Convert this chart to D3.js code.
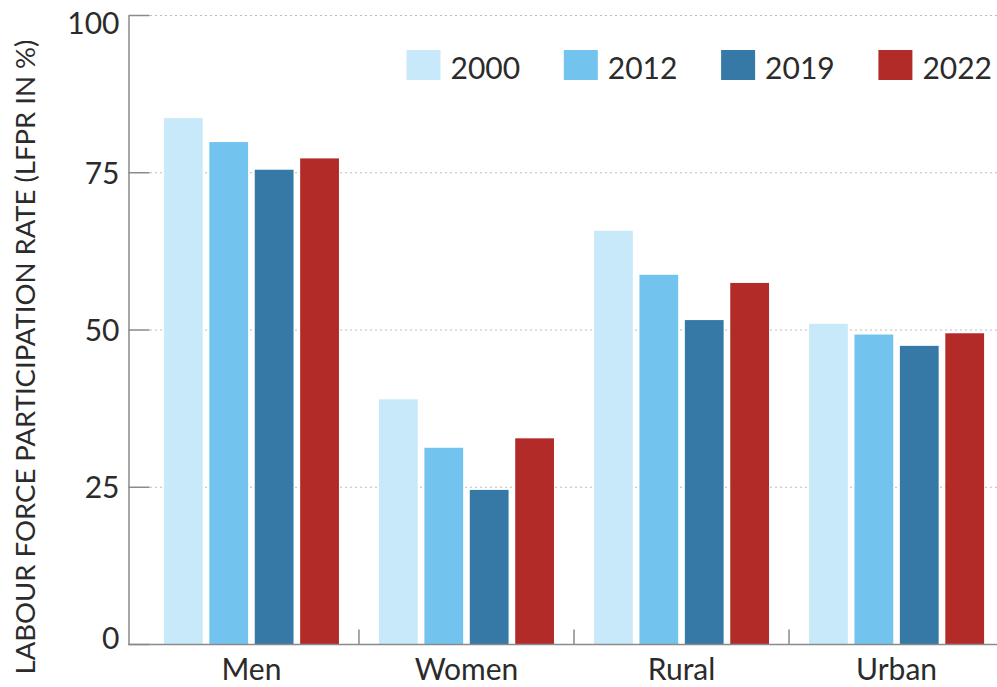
<!DOCTYPE html>
<html>
<head>
<meta charset="utf-8">
<script src="https://cdn.jsdelivr.net/npm/d3@7"></script>
<style>
  body { margin: 0; background: #fff; }
  svg { display: block; font-family: Lato, "Open Sans", sans-serif; }
  .tick text { fill: #2b2b2b; }
</style>
</head>
<body>
<script>
// data
var categories = ["Men", "Women", "Rural", "Urban"];
var years = ["2000", "2012", "2019", "2022"];
var v2000 = [83.6, 38.9, 65.7, 50.9];
var v2012 = [79.8, 31.2, 58.7, 49.2];
var v2019 = [75.4, 24.5, 51.5, 47.4];
var v2022 = [77.2, 32.7, 57.4, 49.4];
var yTicks = [0, 25, 50, 75, 100];
var colors = ["#c8e9f9", "#72c4ef", "#3679a7", "#b22b28"];

var series = [v2000, v2012, v2019, v2022];

var width = 997, height = 687;
var font = "Lato, 'Open Sans', sans-serif";

// set the ranges
var x = d3.scaleBand().domain(categories)
    .range([128, 1020])
    .paddingInner(0.186)
    .paddingOuter(0.167);
var xYear = d3.scaleBand().domain(years)
    .range([0, x.bandwidth()])
    .paddingInner(0.146);
var y = d3.scaleLinear().domain([0, 100]).range([644, 15]);

var svg = d3.select("body").append("svg")
    .attr("width", width)
    .attr("height", height);

// dotted gridlines
svg.append("g")
    .selectAll("line")
    .data(yTicks.filter(function (d) { return d > 0; }))
    .enter().append("line")
    .attr("x1", 150)
    .attr("x2", width)
    .attr("y1", function (d) { return y(d) + 0.5; })
    .attr("y2", function (d) { return y(d) + 0.5; })
    .attr("stroke", "#bdbdbd")
    .attr("stroke-width", 1.2)
    .attr("stroke-dasharray", "2,3");

// bars
var groups = svg.append("g")
    .selectAll("g")
    .data(categories)
    .enter().append("g")
    .attr("transform", function (d) { return "translate(" + x(d) + ",0)"; });

groups.selectAll("rect")
    .data(function (d, i) {
        return years.map(function (yr, j) { return { year: yr, value: series[j][i], c: colors[j] }; });
    })
    .enter().append("rect")
    .attr("x", function (d) { return xYear(d.year); })
    .attr("width", xYear.bandwidth())
    .attr("y", function (d) { return y(d.value); })
    .attr("height", function (d) { return y(0) - y(d.value); })
    .attr("fill", function (d) { return d.c; });

// y axis
var yAxis = svg.append("g")
    .attr("transform", "translate(128.5,0)")
    .call(d3.axisRight(y).tickValues(yTicks).tickSize(21).tickSizeOuter(0).tickFormat(d3.format("d")))
    .attr("font-family", font);
yAxis.select(".domain").attr("stroke", "#8a8a8a").attr("stroke-width", 1.5);
yAxis.selectAll(".tick line").attr("stroke", "#8a8a8a").attr("stroke-width", 1.5);
yAxis.selectAll(".tick text")
    .attr("x", -9)
    .attr("text-anchor", "end")
    .attr("dy", "0.36em")
    .attr("y", function (d) { return d === 100 ? 8 : (d === 0 ? -6 : 0); })
    .style("font-size", "30px");

// x axis
var xAxis = svg.append("g")
    .attr("transform", "translate(0,644.5)")
    .call(d3.axisBottom(x).tickSize(0).tickSizeOuter(0).tickPadding(14))
    .attr("font-family", font);
xAxis.select(".domain").attr("stroke", "#8a8a8a").attr("stroke-width", 1.5)
    .attr("d", "M128,0H" + width);
xAxis.selectAll(".tick text")
    .attr("dy", "0.71em")
    .style("font-size", "30px");

// boundary ticks between groups
var gap = x.step() - x.bandwidth();
xAxis.append("g")
    .selectAll("line")
    .data(categories.slice(1))
    .enter().append("line")
    .attr("x1", function (d) { return x(d) - gap / 2; })
    .attr("x2", function (d) { return x(d) - gap / 2; })
    .attr("y1", 0)
    .attr("y2", -15)
    .attr("stroke", "#8a8a8a")
    .attr("stroke-width", 1.5);

// y title
svg.append("text")
    .attr("transform", "translate(35,357) rotate(-90)")
    .attr("text-anchor", "middle")
    .attr("fill", "#2b2b2b")
    .style("font-size", "27.5px")
    .text("LABOUR FORCE PARTICIPATION RATE (LFPR IN %)");

// legend
var legend = svg.append("g")
    .selectAll("g")
    .data(years)
    .enter().append("g")
    .attr("transform", function (d, i) { return "translate(" + (406.5 + i * 157.3) + ",50)"; });
legend.append("rect")
    .attr("width", 34)
    .attr("height", 30)
    .attr("fill", function (d, i) { return colors[i]; });
legend.append("text")
    .attr("x", 44)
    .attr("y", 29)
    .attr("fill", "#2b2b2b")
    .style("font-size", "30px")
    .text(function (d) { return d; });
</script>
</body>
</html>
